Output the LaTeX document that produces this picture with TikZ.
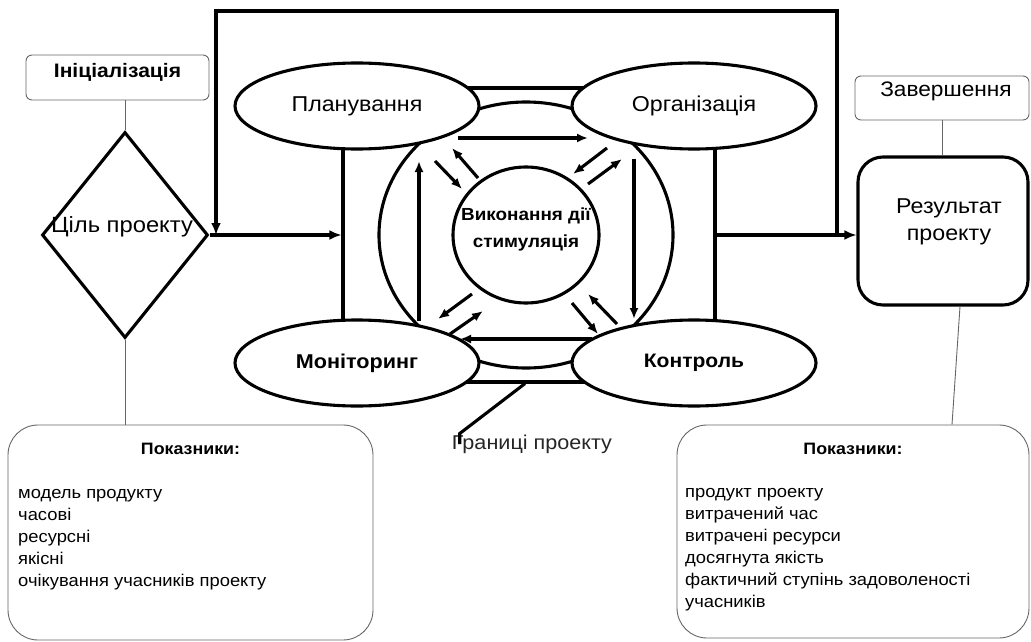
\documentclass[tikz,border=0pt]{standalone}
\usepackage{fontspec}
\setmainfont{Liberation Sans}[FakeStretch=1.08]
\usetikzlibrary{arrows.meta,positioning,shapes.geometric}

\tikzset{
  bold line/.style={line width=3.1pt},
  thin line/.style={line width=0.9pt, draw=black!60},
  arr/.style={bold line, -{Latex[length=12pt,width=10pt]}},
  small arr/.style={bold line, -{Latex[length=11pt,width=9pt]}},
  stage/.style={ellipse, draw, bold line, fill=white, minimum width=244pt,
    minimum height=86pt, inner sep=0pt, font=\fontsize{21.5}{24}\selectfont},
  tag/.style={rectangle, rounded corners=6pt, thin line, inner sep=0pt},
  panel/.style={rectangle, rounded corners=30pt, thin line, inner sep=0pt},
  ptitle/.style={anchor=base, inner sep=0pt, font=\bfseries\fontsize{16.5}{20}\selectfont},
  item/.style={anchor=base west, inner sep=0pt, font=\fontsize{17}{22}\selectfont},
}

\begin{document}
\begin{tikzpicture}[x=1pt,y=-1pt]
  \useasboundingbox (0,0) rectangle (1031,642);

  % start of the project
  \node[tag, minimum width=183pt, minimum height=45pt,
    label={[yshift=5pt, font=\bfseries\fontsize{19.5}{22}\selectfont]center:Ініціалізація}] (init) at (117.5,77.5) {};
  \node[diamond, draw, bold line, minimum width=166pt, minimum height=206pt, inner sep=0pt,
    label={[yshift=8pt, xshift=-3pt, font=\fontsize{22}{24}\selectfont]center:Ціль проекту}] (goal) at (125,235) {};
  \node[panel, minimum width=365pt, minimum height=215pt] (lpanel) at (190.5,532.5) {};
  \node[ptitle] (ltitle) at (190.5,454) {Показники:};
  \foreach \t [count=\i] in {модель продукту, часові, ресурсні, якісні, очікування учасників проекту}
    \node[item] (litem\i) at (18,476+22*\i) {\t};
  \draw[thin line] (goal.north |- init.south) -- (goal.north);
  \draw[thin line] (goal.south) -- (goal.south |- lpanel.north);

  % project cycle
  \node[draw, bold line, minimum width=372pt, minimum height=294pt, inner sep=0pt] (frame) at (529,235) {};
  \node[ellipse, draw, bold line, minimum width=294pt, minimum height=266pt, inner sep=0pt] (loop) at (526,235) {};
  \node[stage] (plan) at (357,106) {Планування};
  \node[stage] (org) at (694,106) {Організація};
  \node[stage, font=\bfseries\fontsize{20}{24}\selectfont] (mon) at (357,363) {Моніторинг};
  \node[stage, font=\bfseries\fontsize{19.5}{24}\selectfont] (ctrl) at (694,363) {Контроль};
  \node[ellipse, draw, bold line, minimum width=146pt, minimum height=136pt, inner sep=0pt,
    label={[yshift=6pt, align=center, font=\bfseries\fontsize{17.5}{27}\selectfont]center:Виконання дії\\стимуляція}] (act) at (526,235) {};
  \begin{scope}[shift={(act.center)}]
    \foreach \xa/\ya/\xb/\yb in {-68/-97/62/-97, 108/-76/108/84, 66/104/-66/104, -107/86/-107/-74,
      -91/-74/-64/-46, -48/-57/-74/-87, 81/-87/47/-61, 62/-51/96/-76,
      -54/59/-88/84, -76/99/-43/76, 46/68/72/99, 91/89/62/59}
      \draw[small arr] (\xa,\ya) -- (\xb,\yb);
  \end{scope}
  \node[font=\fontsize{20}{24}\selectfont, text=black!85, inner sep=1pt] (bnd) at (532,444) {Границі проекту};
  \draw[bold line] ([xshift=-4pt]frame.south) -- ([xshift=9pt]bnd.north west) -- ([xshift=9pt]bnd.west);

  % end of the project
  \node[tag, minimum width=174pt, minimum height=44pt,
    label={[yshift=7pt, xshift=4pt, font=\fontsize{21}{24}\selectfont]center:Завершення}] (fin) at (942,98) {};
  \node[draw, bold line, rounded corners=25pt, minimum width=170pt, minimum height=148pt, inner sep=0pt,
    label={[yshift=9pt, xshift=6pt, align=center, font=\fontsize{21.5}{27}\selectfont]center:Результат\\проекту}] (res) at (943,231) {};
  \node[panel, minimum width=352pt, minimum height=213pt] (rpanel) at (853,531.5) {};
  \node[ptitle] (rtitle) at (853,454) {Показники:};
  \foreach \t [count=\i] in {продукт проекту, витрачений час, витрачені ресурси, досягнута якість,
    фактичний ступінь задоволеності, учасників}
    \node[item] (ritem\i) at (685,475+22*\i) {\t};
  \draw[thin line] (fin.south) -- (fin.south |- res.north);
  \draw[thin line] ([xshift=17pt]res.south) -- ([xshift=99pt]rpanel.north);

  % flows
  \draw[arr] (goal.east) -- (goal.east -| frame.west);
  \draw[arr] (frame.east) -- (frame.east -| res.west);
  \coordinate (fbr) at (837,235);
  \coordinate (fbl) at (216,235);
  \draw[arr] (fbr) -- (837,11) -| (fbl);
\end{tikzpicture}
\end{document}
